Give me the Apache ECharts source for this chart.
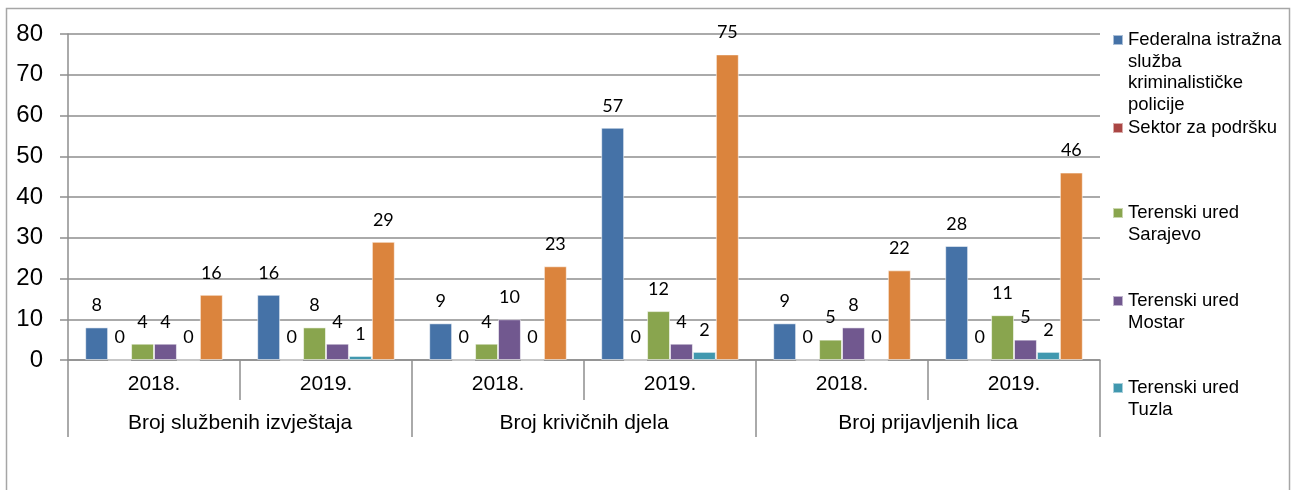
<!DOCTYPE html>
<html>
<head>
<meta charset="utf-8">
<script src="https://cdn.jsdelivr.net/npm/echarts@6/dist/echarts.min.js"></script>
<style>
  html, body { margin: 0; padding: 0; background: #fff; }
  #chart { width: 1293px; height: 490px; }
</style>
</head>
<body>
<div id="chart"></div>
<script>
// godine (donji nivo) i grupe (gornji nivo)
const years = ['2018.', '2019.', '2018.', '2019.', '2018.', '2019.'];
const groups = ['Broj službenih izvještaja', 'Broj krivičnih djela', 'Broj prijavljenih lica'];
const yTicks = [0, 10, 20, 30, 40, 50, 60, 70, 80];

const fiskp = [8, 16, 9, 57, 9, 28];
const sektor = [0, 0, 0, 0, 0, 0];
const sarajevo = [4, 8, 4, 12, 5, 11];
const mostar = [4, 4, 10, 4, 8, 5];
const tuzla = [0, 1, 0, 2, 0, 2];
const ukupno = [16, 29, 23, 75, 22, 46];

const seriesList = [
  { name: 'Federalna istražna služba kriminalističke policije', data: fiskp, color: '#4572A7' },
  { name: 'Sektor za podršku', data: sektor, color: '#AA4643' },
  { name: 'Terenski ured Sarajevo', data: sarajevo, color: '#89A54E' },
  { name: 'Terenski ured Mostar', data: mostar, color: '#71588F' },
  { name: 'Terenski ured Tuzla', data: tuzla, color: '#4198AF' },
  { name: 'Ukupno', data: ukupno, color: '#DB843D' }
];

// legenda: tekst po redovima, kao u originalu
const legendLines = {
  'Federalna istražna služba kriminalističke policije': ['Federalna istražna', 'služba', 'kriminalističke', 'policije'],
  'Sektor za podršku': ['Sektor za podršku'],
  'Terenski ured Sarajevo': ['Terenski ured', 'Sarajevo'],
  'Terenski ured Mostar': ['Terenski ured', 'Mostar'],
  'Terenski ured Tuzla': ['Terenski ured', 'Tuzla']
};
const legendTops = [28.5, 116.5, 201.5, 289.5, 376.5];
const LH = 21.5;

const gridCol = '#8e8e8e';
const font = 'Liberation Sans, Arial, sans-serif';

const legends = seriesList.slice(0, 5).map((s, i) => {
  const n = legendLines[s.name].length;
  const h = LH * n;
  return {
    show: true,
    orient: 'vertical',
    left: 1112,
    top: legendTops[i],
    padding: 0,
    itemGap: 0,
    itemWidth: 10,
    itemHeight: h,
    selectedMode: false,
    data: [{
      name: s.name,
      // kvadrat uz prvi red teksta
      icon: 'path://M0,0h0.01v0.01h-0.01z M0,5.5h10v10h-10z M9.99,' + (h - 0.01) + 'h0.01v0.01h-0.01z'
    }],
    formatter: (name) => legendLines[name].join('\n'),
    textStyle: { fontFamily: font, fontSize: 18.5, lineHeight: LH, color: '#000' }
  };
});

const chart = echarts.init(document.getElementById('chart'));
chart.setOption({
  animation: false,
  backgroundColor: '#fff',
  graphic: [{
    type: 'rect',
    shape: { x: 6.5, y: 8.5, width: 1283, height: 520 },
    style: { fill: 'none', stroke: '#a6a6a6', lineWidth: 1.5 },
    silent: true
  }],
  legend: legends,
  grid: { left: 68, right: 193, top: 34, bottom: 130 },
  xAxis: [{
    type: 'category',
    data: years,
    position: 'bottom',
    axisLine: { show: true, lineStyle: { color: gridCol, width: 1.5 } },
    axisTick: { show: true, interval: 0, length: 40, lineStyle: { color: gridCol, width: 1.5 } },
    axisLabel: { interval: 0, margin: 14, fontFamily: font, fontSize: 21, color: '#000' }
  }, {
    type: 'category',
    data: groups,
    position: 'bottom',
    axisLine: { show: false },
    axisTick: { show: true, interval: 0, length: 77, lineStyle: { color: gridCol, width: 1.5 } },
    axisLabel: { interval: 0, margin: 53, fontFamily: font, fontSize: 21, color: '#000' }
  }],
  yAxis: {
    type: 'value',
    min: yTicks[0],
    max: yTicks[yTicks.length - 1],
    interval: 10,
    axisLine: { show: true, lineStyle: { color: gridCol, width: 1.5 } },
    axisTick: { show: true, length: 8, lineStyle: { color: gridCol, width: 1.5 } },
    splitLine: { show: true, lineStyle: { color: gridCol, width: 1.5 } },
    axisLabel: { margin: 25, fontFamily: font, fontSize: 24, color: '#000' }
  },
  series: seriesList.map((s) => ({
    type: 'bar',
    name: s.name,
    data: s.data,
    xAxisIndex: 0,
    barGap: '0%',
    barCategoryGap: '20%',
    itemStyle: { color: s.color, borderColor: 'rgba(255,255,255,0.55)', borderWidth: 1 },
    label: {
      show: true,
      position: 'top',
      distance: 13,
      fontFamily: 'Lato, sans-serif',
      fontSize: 18,
      color: '#000'
    }
  }))
});
</script>
</body>
</html>
